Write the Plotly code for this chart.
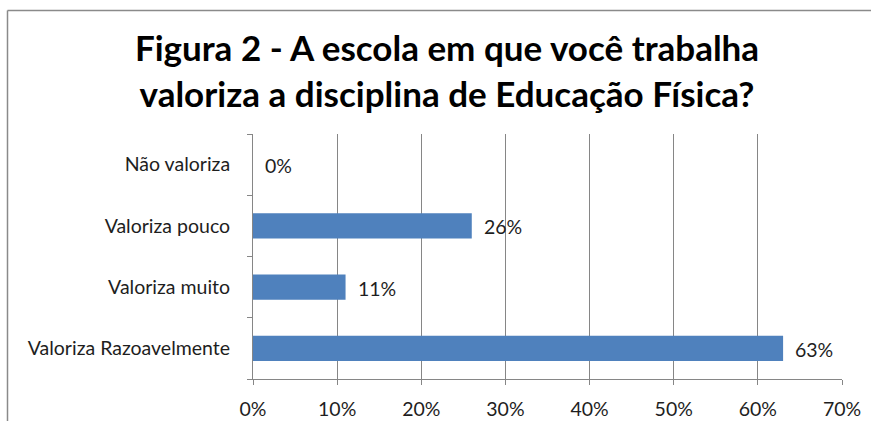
import plotly.graph_objects as go

categories = ["Valoriza Razoavelmente", "Valoriza muito", "Valoriza pouco", "Não valoriza"]
values = [63, 11, 26, 0]
value_labels = ["63%", "11%", "26%", "0%"]
tick_vals = [0, 10, 20, 30, 40, 50, 60, 70]
tick_text = ["0%", "10%", "20%", "30%", "40%", "50%", "60%", "70%"]
title_text = "Figura 2 - A escola em que você trabalha<br>valoriza a disciplina de Educação Física?"

FONT = "Lato"
GRID = "#868686"
TXT = "#1e1e1e"
FS = 19.5

W, H = 871, 421
L, R, T, B = 253, 29, 134, 42
pw, ph = W - L - R, H - T - B

def px_x(p):
    return (p - L) / pw

def px_y(p):
    return (H - B - p) / ph

fig = go.Figure()
fig.add_trace(go.Bar(
    x=values, y=categories, orientation="h",
    marker=dict(color="#4F81BD", line=dict(width=0)),
    hoverinfo="skip",
))

for v, c, t in zip(values, categories, value_labels):
    fig.add_annotation(x=v, y=c, text=t, showarrow=False, xanchor="left",
                       xshift=10, yshift=-1, font=dict(family=FONT, size=FS, color=TXT))

# chart-area frame (top and left edges visible; right/bottom are cropped off)
fig.add_shape(type="line", xref="paper", yref="paper",
              x0=px_x(7.5), x1=px_x(W + 20), y0=px_y(10.5), y1=px_y(10.5),
              line=dict(color="#8a8a8a", width=1.5), layer="below")
fig.add_shape(type="line", xref="paper", yref="paper",
              x0=px_x(7.5), x1=px_x(7.5), y0=px_y(10.5), y1=px_y(H + 20),
              line=dict(color="#8a8a8a", width=1.5), layer="below")

fig.update_layout(
    width=W, height=H,
    margin=dict(l=L, r=R, t=T, b=B, pad=0, autoexpand=False),
    paper_bgcolor="white", plot_bgcolor="white",
    bargap=0.59,
    showlegend=False,
    title=dict(text=title_text, x=447 / W, xanchor="center", xref="container",
               y=1 - 61 / H, yanchor="middle", yref="container",
               font=dict(family=FONT, size=35, color="#000000", weight="bold")),
    xaxis=dict(range=[0, 70], tickvals=tick_vals, ticktext=tick_text,
               showgrid=True, gridcolor=GRID, gridwidth=1,
               showline=True, linecolor=GRID, linewidth=1,
               ticks="outside", ticklen=5, tickcolor=GRID,
               ticklabelstandoff=8, zeroline=False, automargin=False,
               tickfont=dict(family=FONT, size=FS, color=TXT)),
    yaxis=dict(categoryorder="array", categoryarray=categories,
               showgrid=False, showline=True, linecolor=GRID, linewidth=1,
               ticks="outside", ticklen=5, tickcolor=GRID, tickson="boundaries",
               ticklabelstandoff=18, zeroline=False, automargin=False,
               tickfont=dict(family=FONT, size=FS, color=TXT)),
)

fig.write_html("out.html", config={"displayModeBar": False},
               post_script="document.body.style.margin='0';document.body.style.overflow='hidden';")
